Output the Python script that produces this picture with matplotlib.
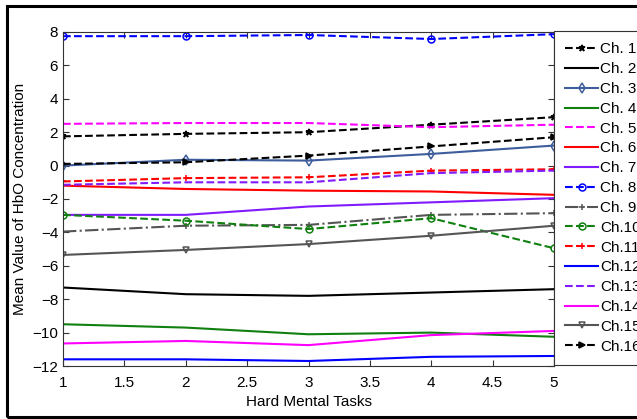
import numpy as np
import matplotlib
matplotlib.use('Agg')
import matplotlib.pyplot as plt
from matplotlib.patches import Rectangle

plt.rcParams['font.family'] = ['Liberation Sans', 'DejaVu Sans']

tasks = [1, 2, 3, 4, 5]
labels = ['Ch. 1', 'Ch. 2', 'Ch. 3', 'Ch. 4', 'Ch. 5', 'Ch. 6', 'Ch. 7', 'Ch. 8',
          'Ch. 9', 'Ch.10', 'Ch.11', 'Ch.12', 'Ch.13', 'Ch.14', 'Ch.15', 'Ch.16']

ch1 = [1.75, 1.9, 2.0, 2.45, 2.9]
ch2 = [-7.3, -7.7, -7.8, -7.6, -7.4]
ch3 = [0.0, 0.35, 0.3, 0.7, 1.2]
ch4 = [-9.5, -9.7, -10.1, -10.0, -10.25]
ch5 = [2.5, 2.55, 2.55, 2.3, 2.45]
ch6 = [-1.2, -1.4, -1.5, -1.55, -1.75]
ch7 = [-2.95, -2.95, -2.45, -2.2, -1.95]
ch8 = [7.75, 7.75, 7.82, 7.58, 7.87]
ch9 = [-3.95, -3.6, -3.55, -2.95, -2.85]
ch10 = [-2.95, -3.3, -3.8, -3.15, -4.95]
ch11 = [-0.95, -0.75, -0.7, -0.3, -0.22]
ch12 = [-11.6, -11.6, -11.7, -11.45, -11.4]
ch13 = [-1.15, -1.0, -1.0, -0.45, -0.3]
ch14 = [-10.65, -10.5, -10.75, -10.15, -9.9]
ch15 = [-5.35, -5.05, -4.7, -4.2, -3.6]
ch16 = [0.1, 0.2, 0.6, 1.15, 1.7]

series = [ch1, ch2, ch3, ch4, ch5, ch6, ch7, ch8, ch9, ch10, ch11, ch12, ch13, ch14, ch15, ch16]

purple = (0.5, 0.1, 1.0)
styles = [
    dict(color='k', ls='--', marker='*', mfc='k'),
    dict(color='k', ls='-', marker=None),
    dict(color='#3d5d9c', ls='-', marker='d', mfc='none'),
    dict(color='#108010', ls='-', marker=None),
    dict(color='#ff00ff', ls='--', marker=None),
    dict(color='#ff0000', ls='-', marker=None),
    dict(color=purple, ls='-', marker=None),
    dict(color='#0000ff', ls='--', marker='o', mfc='none'),
    dict(color='#555555', ls='-.', marker='+', mfc='none'),
    dict(color='#108010', ls='--', marker='o', mfc='none'),
    dict(color='#ff0000', ls='--', marker='+', mfc='none'),
    dict(color='#0000ff', ls='-', marker=None),
    dict(color=purple, ls='--', marker=None),
    dict(color='#ff00ff', ls='-', marker=None),
    dict(color='#555555', ls='-', marker='v', mfc='none'),
    dict(color='k', ls='--', marker='>', mfc='k'),
]

fig = plt.figure(figsize=(6.37, 4.19), dpi=100)
ax = fig.add_axes([63/637, 1 - 366/419, (554 - 63)/637, (366 - 32)/419])

for y, lab, st in zip(series, labels, styles):
    ax.plot(tasks, y, color=st['color'], ls=st['ls'], marker=st['marker'],
            mfc=st.get('mfc', 'none'), ms=5, mew=1.1, lw=1.5, label=lab)

ax.set_xlim(1, 5)
ax.set_ylim(-12, 8)
ax.set_xticks(np.arange(1, 5.01, 0.5))
ax.set_xticklabels(['1', '1.5', '2', '2.5', '3', '3.5', '4', '4.5', '5'])
ax.set_yticks(np.arange(-12, 9, 2))
ax.tick_params(direction='in', top=True, right=True, labelsize=11, length=4, color='#333333')
ax.tick_params(axis='x', pad=7)
for s in ax.spines.values():
    s.set_color('#333333')
    s.set_linewidth(0.8)
ax.set_xlabel('Hard Mental Tasks', fontsize=11, labelpad=4)
ax.set_ylabel('Mean Value of HbO Concentration', fontsize=11, labelpad=4)

leg = ax.legend(loc='upper left', bbox_to_anchor=(1.0, 1.003), borderaxespad=0,
                fontsize=11, handlelength=2.1, handletextpad=0.15,
                labelspacing=0.38, borderpad=0.75, fancybox=False,
                edgecolor='#333333', framealpha=1)
leg.get_frame().set_linewidth(0.8)

fig.patches.append(Rectangle((7/637, 2/419), 700/637, 411/419, transform=fig.transFigure,
                             fill=False, edgecolor='k', linewidth=2.2))

fig.savefig('out.png', dpi=100)
